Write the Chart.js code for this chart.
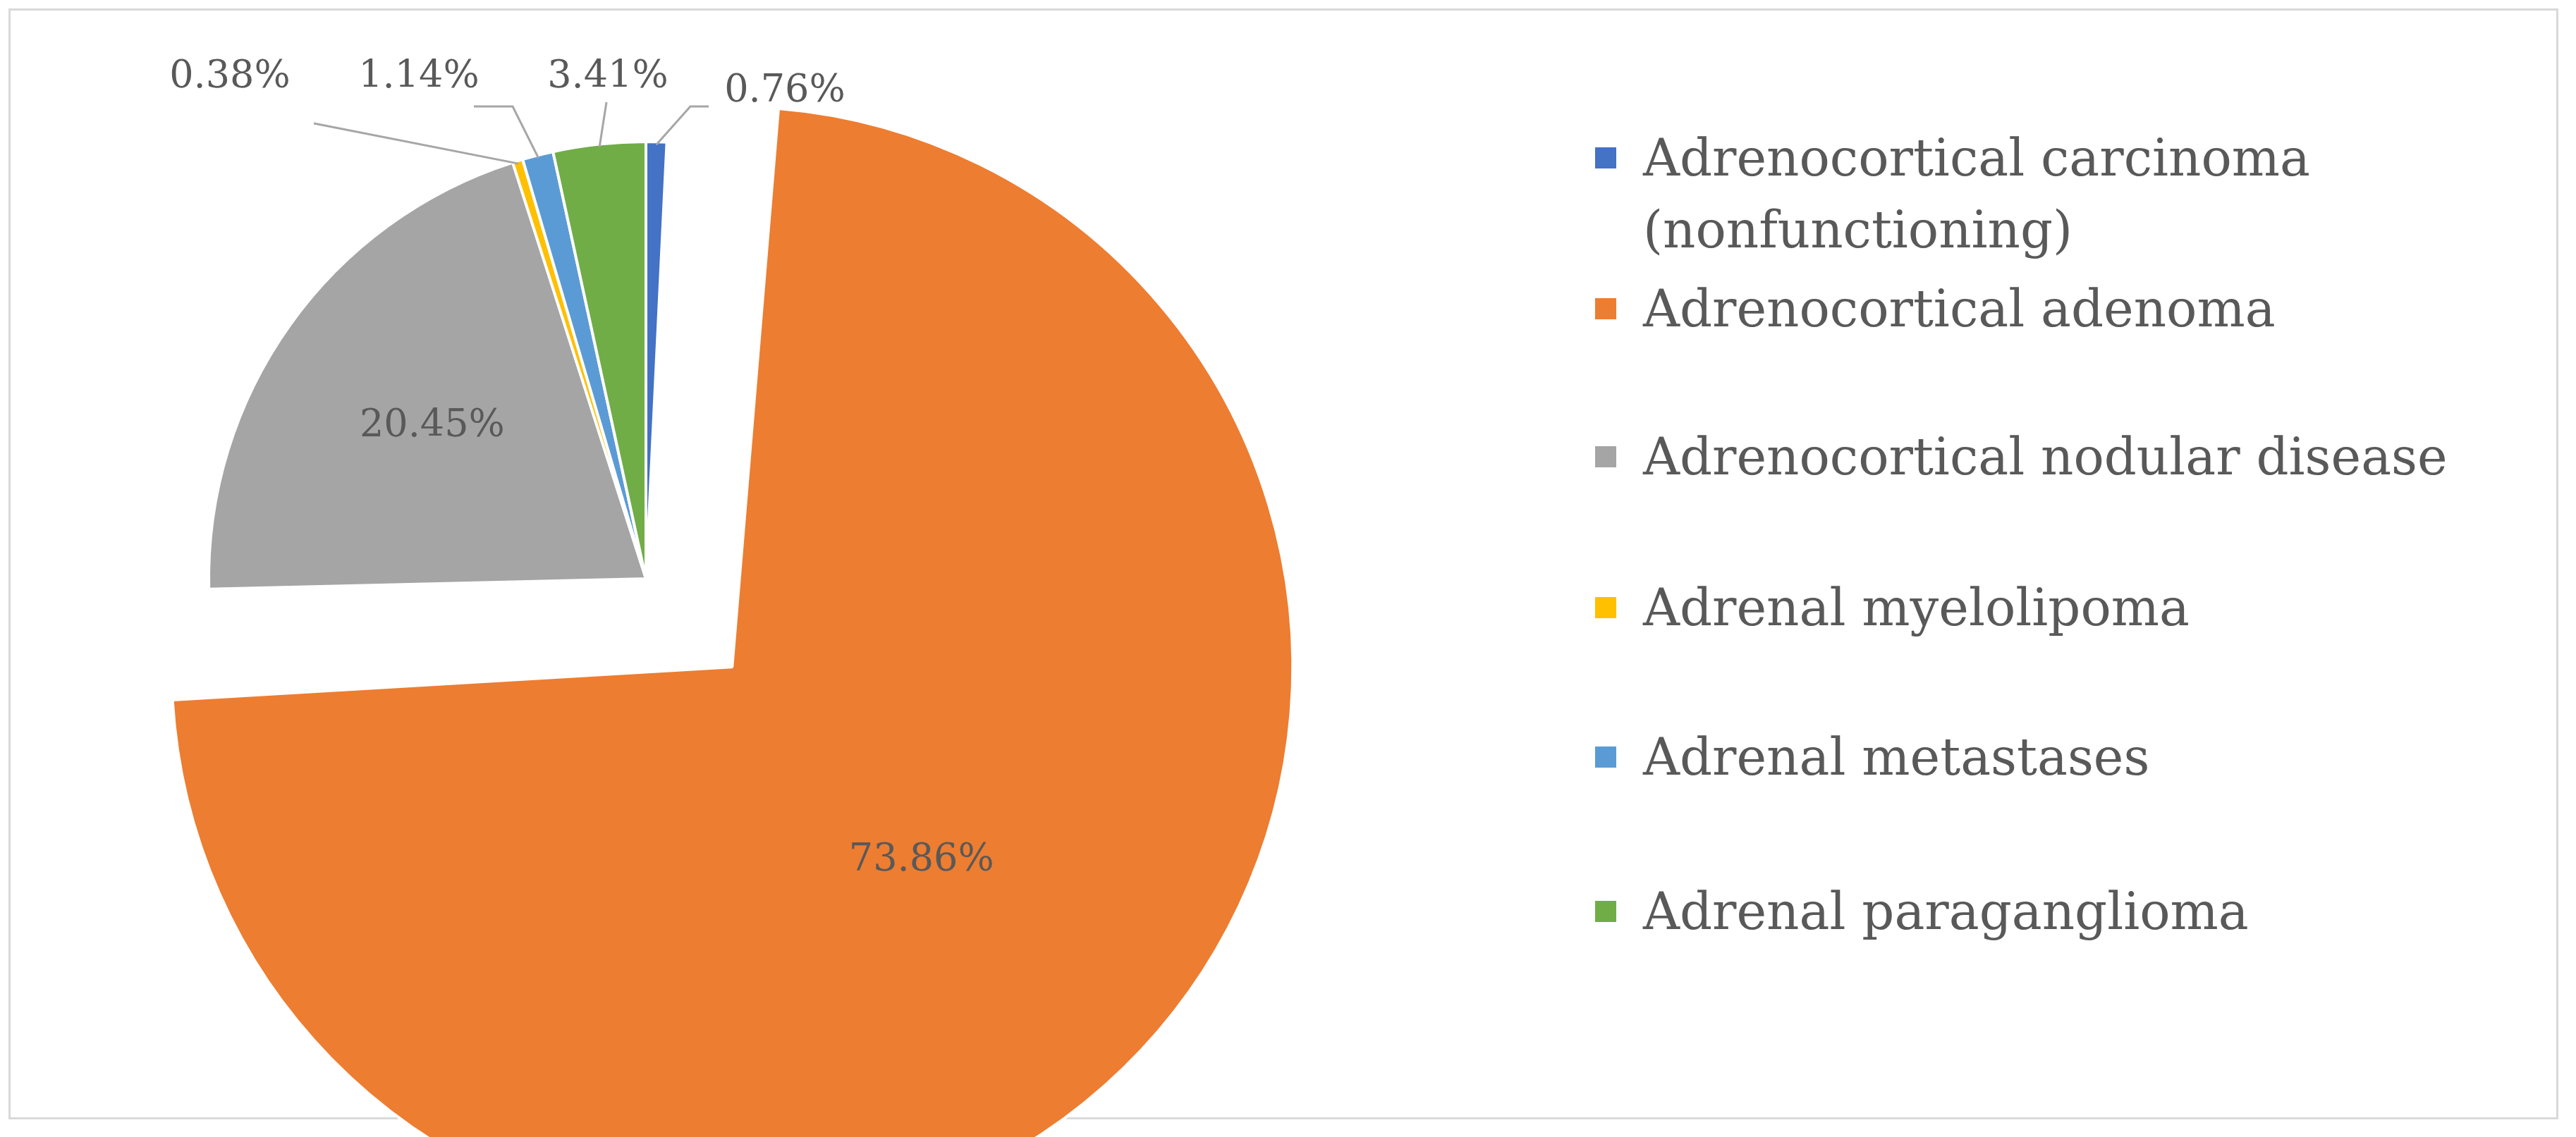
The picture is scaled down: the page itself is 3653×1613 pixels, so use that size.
<!DOCTYPE html>
<html><head><meta charset="utf-8">
<script src="https://cdn.jsdelivr.net/npm/chart.js@4/dist/chart.umd.min.js"></script>
<style>
html,body{margin:0;padding:0;background:#fff;overflow:hidden;}
#wrap{position:relative;width:3653px;height:1613px;overflow:hidden;}
#frame{position:absolute;left:12px;top:12px;width:3616px;height:1576px;border:3px solid #d9d9d9;box-sizing:border-box;}
canvas{position:absolute;left:-200px;top:-200px;}
#legend{position:absolute;left:2262px;top:0;font-family:"DejaVu Serif","Liberation Serif",serif;font-size:72px;color:#595959;}
.it{position:absolute;white-space:nowrap;}
.sw{position:absolute;left:0;width:30px;height:30px;}
</style></head>
<body><div id="wrap"><div id="frame"></div><canvas id="c" width="3853" height="2000"></canvas><div id="legend"></div></div>
<script>
const categories = ["Adrenocortical carcinoma (nonfunctioning)","Adrenocortical adenoma","Adrenocortical nodular disease","Adrenal myelolipoma","Adrenal metastases","Adrenal paraganglioma"];
const legendLines = [["Adrenocortical carcinoma","(nonfunctioning)"],["Adrenocortical adenoma"],["Adrenocortical nodular disease"],["Adrenal myelolipoma"],["Adrenal metastases"],["Adrenal paraganglioma"]];
const values = [0.76, 73.86, 20.45, 0.38, 1.14, 3.41];
const colors = ["#4472C4","#ED7D31","#A5A5A5","#FFC000","#5B9BD5","#70AD47"];
const offsets = [0, 700, 0, 0, 0, 0];
const S = 200; // canvas shift

const labelLayout = [
  {out:true, tx:1113, ty:130, pts:[[979,151],[1005,151]]},
  {out:false, r:0.62},
  {out:false, r:0.6},
  {out:true, tx:326, ty:110, pts:[[445,175]]},
  {out:true, tx:594, ty:110, pts:[[727,151],[672,151]]},
  {out:true, tx:862, ty:110, pts:[[860,145]]}
];

const labelPlugin = {
  id:'lbl',
  afterDatasetsDraw(chart){
    const ctx = chart.ctx;
    const meta = chart.getDatasetMeta(0);
    ctx.save();
    ctx.font = '54px "DejaVu Serif", "Liberation Serif", serif';
    ctx.fillStyle = '#595959';
    ctx.textAlign = 'center'; ctx.textBaseline = 'middle';
    meta.data.forEach((arc, i) => {
      const L = labelLayout[i];
      const p = arc.getProps(['x','y','startAngle','endAngle','outerRadius'], true);
      const mid = (p.startAngle + p.endAngle)/2;
      const off = offsets[i]/4;
      const cx = p.x + Math.cos(mid)*off, cy = p.y + Math.sin(mid)*off;
      const txt = values[i].toFixed(2) + '%';
      if (!L.out) {
        ctx.fillText(txt, cx + Math.cos(mid)*p.outerRadius*L.r, cy + Math.sin(mid)*p.outerRadius*L.r);
      } else {
        const sx = cx + Math.cos(mid)*(p.outerRadius-4), sy = cy + Math.sin(mid)*(p.outerRadius-4);
        ctx.strokeStyle = '#a6a6a6'; ctx.lineWidth = 3;
        ctx.beginPath(); ctx.moveTo(sx, sy);
        L.pts.forEach(q => ctx.lineTo(q[0]+S, q[1]+S));
        ctx.stroke();
        ctx.fillText(txt, L.tx+S, L.ty+S);
      }
    });
    ctx.restore();
  }
};

new Chart(document.getElementById('c'), {
  type:'pie',
  data:{labels:categories, datasets:[{data:values, backgroundColor:colors, borderColor:'#fff', borderWidth:4, offset:offsets}]},
  options:{responsive:false, animation:false,
    layout:{padding:{left:144, right:1765, top:49, bottom:7}},
    plugins:{legend:{display:false}, tooltip:{enabled:false}}},
  plugins:[labelPlugin]
});

const lg = document.getElementById('legend');
const ys = [224, 438, 648, 862, 1074, 1293];
legendLines.forEach((lines, i) => {
  const sw = document.createElement('div'); sw.className='sw'; sw.style.background=colors[i]; sw.style.top=(ys[i]-15)+'px'; lg.appendChild(sw);
  lines.forEach((t, j) => {
    const d = document.createElement('div'); d.className='it'; d.textContent=t;
    d.style.left='68px'; d.style.top=(ys[i]-40 + j*102)+'px'; d.style.lineHeight='80px'; lg.appendChild(d);
  });
});
</script></body></html>
